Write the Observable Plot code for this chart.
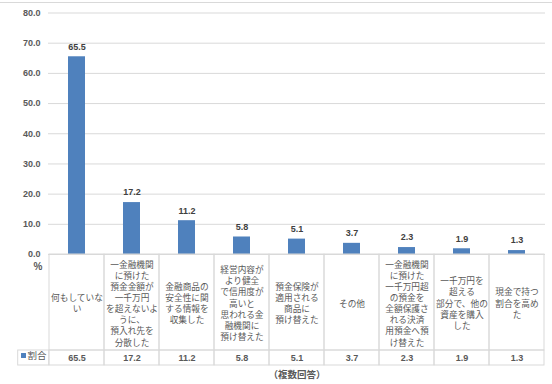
<!DOCTYPE html>
<html><head><meta charset="utf-8">
<script src="https://cdn.jsdelivr.net/npm/d3@7"></script>
<script src="https://cdn.jsdelivr.net/npm/@observablehq/plot@0.6"></script>
<style>body{margin:0;background:#fff} svg{display:block}</style>
</head><body><div id="chart"></div>
<script>
const categories = [
  "何もしていな\nい",
  "一金融機関\nに預けた\n預金金額が\n一千万円\nを超えないよ\nうに、\n預入れ先を\n分散した",
  "金融商品の\n安全性に関\nする情報を\n収集した",
  "経営内容が\nより健全\nで信用度が\n高いと\n思われる金\n融機関に\n預け替えた",
  "預金保険が\n適用される\n商品に\n預け替えた",
  "その他",
  "一金融機関\nに預けた\n一千万円超\nの預金を\n全額保護さ\nれる決済\n用預金へ預\nけ替えた",
  "一千万円を\n超える\n部分で、他の\n資産を購入\nした",
  "現金で持つ\n割合を高め\nた"
];
const values = [65.5, 17.2, 11.2, 5.8, 5.1, 3.7, 2.3, 1.9, 1.3];
const yTicks = [0, 10, 20, 30, 40, 50, 60, 70, 80];
const seriesName = "割合";
const unitLabel = "%";
const captionText = "（複数回答）";

const data = categories.map((c, i) => ({cat: c, value: values[i]}));

const W = 552, H = 384;
const mL = 48, mR = 7, mT = 12.5, mB = 130;
const plotBottom = H - mB;
const k = (plotBottom - mT) / 80;
const py = px => (plotBottom - px) / k; // pixel row -> y units (for the table below the plot)
const bw = (W - mL - mR) / categories.length;

const fam = "'Noto Sans CJK JP', 'Noto Sans', sans-serif";
const numFam = "'Liberation Sans', Arial, sans-serif";
const grid = "#d9d9d9";
const txt = "#595959";
const blue = "#4F81BD";

const chart = Plot.plot({
  width: W, height: H,
  marginLeft: mL, marginRight: mR, marginTop: mT, marginBottom: mB,
  style: {fontFamily: fam, background: "#fff"},
  x: {type: "band", domain: categories, padding: 0, axis: null},
  y: {domain: [0, 80], axis: null},
  marks: [
    Plot.ruleY([py(2)], {y: d => d, stroke: grid, insetLeft: -mL, insetRight: -mR}),
    Plot.ruleY(yTicks, {stroke: grid}),
    Plot.axisY({ticks: yTicks, tickSize: 0, tickPadding: 8, tickFormat: d3.format(".1f"),
      fontSize: 9, fontWeight: "bold", color: txt, label: null, fontFamily: numFam}),
    Plot.barY(data, {x: "cat", y: "value", fill: blue, insetLeft: 19, insetRight: 19}),
    Plot.text(data, {x: "cat", y: "value", text: d => d.value.toFixed(1), dy: -10,
      fontSize: 9, fontWeight: "bold", fill: "#404040", fontFamily: numFam}),
    // table cells
    Plot.barY(data, {x: "cat", y1: 0, y2: py(350), fill: "none", stroke: grid}),
    Plot.barY(data, {x: "cat", y1: py(350), y2: py(365), fill: "none", stroke: grid}),
    Plot.barY([data[0]], {x: "cat", y1: py(350), y2: py(365), fill: "none", stroke: grid,
      insetLeft: -(mL - 16.7), insetRight: bw}),
    Plot.text(data, {x: "cat", y: py(302.5), text: "cat", fontSize: 8.7, lineHeight: 1.28, fill: txt}),
    Plot.text(data, {x: "cat", y: py(357.5), text: d => d.value.toFixed(1),
      fontSize: 9, fontWeight: "bold", fill: txt, fontFamily: numFam}),
    Plot.dot([py(355)], {y: d => d, frameAnchor: "left", dx: -25, symbol: "square", r: 2.8, fill: blue}),
    Plot.text([seriesName], {y: () => py(355.5), frameAnchor: "left", dx: -21, textAnchor: "start",
      text: d => d, fontSize: 9.5, fill: txt}),
    Plot.text([unitLabel], {y: () => py(266), frameAnchor: "left", dx: -15, text: d => d,
      fontSize: 10, fontWeight: "bold", fill: txt, fontFamily: numFam}),
    Plot.text([captionText], {y: () => py(374.5), frameAnchor: "middle", text: d => d,
      fontSize: 9.5, fontWeight: "bold", fill: txt})
  ]
});
document.getElementById("chart").appendChild(chart);
</script>
</body></html>
